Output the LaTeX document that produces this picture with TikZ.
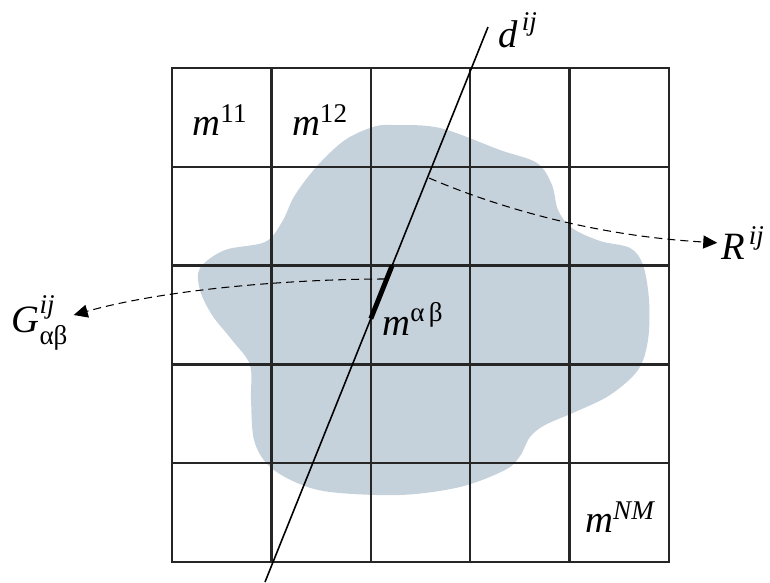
\documentclass[tikz,border=0pt]{standalone}
\usepackage{amsmath}
\usepackage{fontspec}
\setmainfont{Liberation Serif}
\usepackage{tikz}
\usetikzlibrary{arrows.meta,calc}
\definecolor{body}{RGB}{198,210,219}

\tikzset{
  cell/.style={line width=1.4pt, draw=black!85},
  lbl/.style={font=\fontsize{22}{26}\selectfont, inner sep=0pt},
  ray/.style={line width=0.6pt, dash pattern=on 0.16cm off 0.1cm,
    -{Triangle[length=0.28cm,width=0.26cm]}},
}

\begin{document}
\begin{tikzpicture}[x=0.02cm,y=-0.02cm]
  \useasboundingbox (0,0) rectangle (770,582);
  % the body under the grid
  \fill[body] plot[smooth cycle, tension=0.55] coordinates {
    (393,125) (440,128) (500,150) (537,163) (552,185) (558,210) (572,228)
    (600,241) (630,248) (643,265) (649,300) (648,340) (638,370) (610,395)
    (575,412) (545,425) (530,437) (520,456) (505,470) (460,487) (400,495)
    (330,492) (295,482) (268,465) (254,440) (251,400) (250,365) (232,340)
    (212,315) (200,290) (200,268) (225,250) (265,242) (282,222) (295,195)
    (318,165) (345,140) (373,127)};
  % the grid
  \draw[cell] (172,68) rectangle (669,562);
  \foreach \k in {1,...,4}{
    \draw[cell] ({172+99.4*\k},68) -- ({172+99.4*\k},562);
    \draw[cell] (172,{68+98.8*\k}) -- (669,{68+98.8*\k});
  }
  % the ray and its piece in cell alpha beta
  \coordinate (dtop) at (488,27);
  \coordinate (dbot) at (265,582);
  \draw[line width=0.9pt] (dbot) -- (dtop);
  \draw[line width=2.8pt] (392.1,265.6) -- (370.8,318.7);

  \node[lbl] (d) at (518,30) {$\textit{d}^{\,\textit{ij}}$};
  \node[lbl] (m11) at (220,120) {$\textit{m}^{\text{11}}$};
  \node[lbl] (m12) at (320,120) {$\textit{m}^{\text{12}}$};
  \node[lbl] (mab) at (413,319) {$\textit{m}^{\text{α\,β}}$};
  \node[lbl] (mNM) at (620,517) {$\textit{m}^{\textit{NM}}$};
  \node[lbl] (R) at (743,243) {$\textit{R}^{\,\textit{ij}}$};
  \node[lbl] (G) at (40,323) {$\textit{G}^{\textit{ij}}_{\text{αβ}}$};

  \coordinate (rs) at (429,178);
  \coordinate (gs) at (385,279);
  \draw[ray, shorten >=2pt] (rs) .. controls (480,200) and (580,235) .. (R.west);
  \draw[ray] (gs) .. controls (300,279) and (170,288) .. ([shift={(5,-8)}]G.east);
\end{tikzpicture}
\end{document}
